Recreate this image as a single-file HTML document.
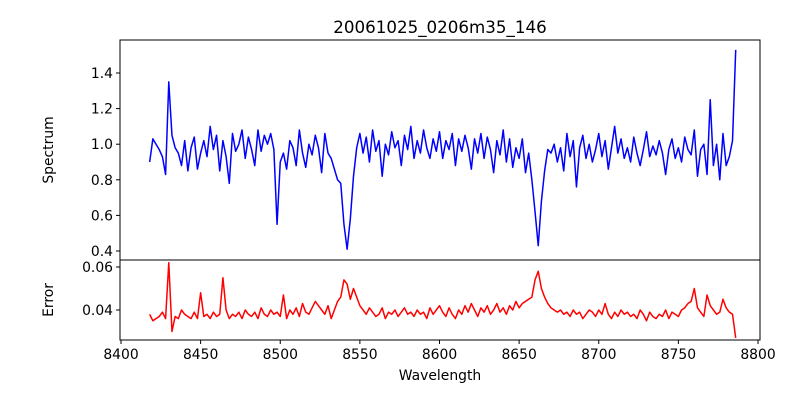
<!DOCTYPE html>
<html><head><meta charset="utf-8"><style>
body{margin:0;background:#fff}
svg{display:block;font-family:"DejaVu Sans","Liberation Sans",sans-serif}
</style></head><body>
<svg id="chart" width="800" height="400" viewBox="0 0 800 400" xmlns="http://www.w3.org/2000/svg">
<rect width="800" height="400" fill="#fff"/>
<text x="440" y="33" font-size="16.7" text-anchor="middle">20061025_0206m35_146</text>
<g id="gtop"></g><g id="gbot"></g>
<text transform="translate(53,150) rotate(-90)" font-size="13.9" text-anchor="middle">Spectrum</text>
<text transform="translate(53,300) rotate(-90)" font-size="13.9" text-anchor="middle">Error</text>
<text x="440" y="380" font-size="13.9" text-anchor="middle">Wavelength</text>
</svg>
<script>
const wlStart = 8418, wlStep = 2;
const flux = [
0.90,1.03,1.00,0.97,0.93,0.83,1.35,1.05,0.98,0.95,
0.88,1.02,0.85,0.98,1.04,0.86,0.95,1.02,0.93,1.10,
0.97,1.05,0.85,1.02,0.93,0.78,1.06,0.96,1.00,1.08,
0.92,1.04,0.97,0.88,1.08,0.96,1.05,1.00,1.06,0.97,
0.55,0.90,0.95,0.86,1.02,0.98,0.88,1.08,0.95,0.87,
1.00,0.94,1.05,0.98,0.84,1.06,0.95,0.92,0.86,0.80,
0.78,0.55,0.41,0.58,0.82,0.98,1.06,0.95,1.04,0.90,
1.08,0.96,1.02,0.82,1.00,0.94,1.07,0.98,1.02,0.88,
1.05,0.97,1.10,0.92,1.02,0.95,1.08,0.98,0.92,1.03,
0.96,1.07,0.92,1.02,0.97,1.06,0.88,1.03,0.96,1.05,
0.98,0.86,1.03,0.95,1.06,0.92,1.04,0.97,0.84,1.02,
0.94,1.08,0.90,1.03,0.87,0.98,0.92,1.03,0.84,0.95,
0.80,0.62,0.43,0.68,0.85,0.97,0.95,1.00,0.90,0.98,
0.85,1.06,0.93,1.02,0.76,0.98,1.05,0.92,1.00,0.90,
0.97,1.06,0.93,1.02,0.86,0.98,1.10,0.95,1.03,0.92,
0.98,0.90,1.04,0.95,0.88,0.97,1.07,0.93,0.99,0.94,
1.02,0.95,0.83,0.97,1.03,0.92,0.98,0.90,1.04,0.97,
0.94,1.08,0.82,0.97,1.00,0.83,1.25,0.88,1.00,0.80,
1.06,0.88,0.93,1.02,1.53];
const err = [
0.038,0.035,0.036,0.037,0.039,0.036,0.062,0.030,0.037,0.036,
0.040,0.038,0.037,0.036,0.039,0.036,0.048,0.037,0.038,0.036,
0.039,0.037,0.038,0.055,0.040,0.036,0.038,0.037,0.039,0.036,
0.040,0.038,0.037,0.039,0.036,0.041,0.038,0.037,0.040,0.038,
0.039,0.037,0.047,0.036,0.040,0.038,0.041,0.037,0.043,0.039,
0.038,0.041,0.044,0.042,0.040,0.038,0.042,0.036,0.040,0.044,
0.046,0.054,0.052,0.045,0.050,0.046,0.042,0.040,0.038,0.041,
0.039,0.037,0.038,0.041,0.036,0.039,0.038,0.040,0.037,0.039,
0.041,0.038,0.039,0.037,0.040,0.038,0.039,0.036,0.041,0.038,
0.040,0.042,0.039,0.037,0.041,0.038,0.036,0.040,0.038,0.042,
0.039,0.043,0.040,0.037,0.041,0.039,0.042,0.038,0.040,0.043,
0.039,0.041,0.038,0.042,0.040,0.044,0.041,0.043,0.044,0.045,
0.046,0.054,0.058,0.050,0.046,0.043,0.041,0.040,0.039,0.040,
0.038,0.039,0.037,0.040,0.038,0.039,0.036,0.038,0.040,0.039,
0.037,0.040,0.038,0.043,0.038,0.036,0.039,0.037,0.040,0.038,
0.039,0.037,0.038,0.036,0.040,0.038,0.035,0.039,0.037,0.036,
0.038,0.037,0.040,0.036,0.039,0.038,0.037,0.040,0.041,0.043,
0.044,0.050,0.041,0.039,0.037,0.047,0.042,0.040,0.038,0.039,
0.045,0.041,0.039,0.038,0.027];
const xTicks = [8400,8450,8500,8550,8600,8650,8700,8750,8800];
const fluxTicks = [0.4,0.6,0.8,1.0,1.2,1.4];
const errTicks = [0.04,0.06];

const NS = "http://www.w3.org/2000/svg";
const L = 120, R = 760, T1 = 40, B1 = 260, B2 = 340;
const xs = w => 121 + (w - 8400) * 1.5925;
const yF = f => 251 - (f - 0.4) * 178;
const yE = e => 310 - (e - 0.04) * 2150;
function mk(tag, parent, attrs){ const e=document.createElementNS(NS,tag); for(const k in attrs) e.setAttribute(k,attrs[k]); parent.appendChild(e); return e; }
const gTop = document.getElementById('gtop'), gBot = document.getElementById('gbot');

const pf = mk('path', gTop, {d: flux.map((v,i)=>(i?'L':'M')+xs(wlStart+i*wlStep).toFixed(2)+','+yF(v).toFixed(2)).join(''), fill:'none', stroke:'#0000ff', 'stroke-width':1.5, 'stroke-linejoin':'round'});


const pe = mk('path', gBot, {d: err.map((v,i)=>(i?'L':'M')+xs(wlStart+i*wlStep).toFixed(2)+','+yE(v).toFixed(2)).join(''), fill:'none', stroke:'#ff0000', 'stroke-width':1.5, 'stroke-linejoin':'round'});



const f1 = mk('rect', gTop, {x:L, y:T1, width:R-L, height:B1-T1, fill:'none', stroke:'#000', 'stroke-width':1});


const f2 = mk('rect', gBot, {x:L, y:B1, width:R-L, height:B2-B1, fill:'none', stroke:'#000', 'stroke-width':1});



xTicks.forEach(t=>{
  const x = xs(t);
  mk('line', gBot, {x1:x, x2:x, y1:B2, y2:B2+4, stroke:'#000'});
  const tx = mk('text', gBot, {x:x, y:B2+19, 'font-size':13.9, 'text-anchor':'middle'});
  tx.textContent = t;
  
  
});
fluxTicks.forEach(t=>{
  const y = yF(t);
  mk('line', gTop, {x1:L-4, x2:L, y1:y, y2:y, stroke:'#000'});
  const tx = mk('text', gTop, {x:L-7, y:y+5, 'font-size':13.9, 'text-anchor':'end'});
  tx.textContent = t.toFixed(1);
  
  
});
errTicks.forEach(t=>{
  const y = yE(t);
  mk('line', gBot, {x1:L-4, x2:L, y1:y, y2:y, stroke:'#000'});
  const tx = mk('text', gBot, {x:L-7, y:y+5, 'font-size':13.9, 'text-anchor':'end'});
  tx.textContent = t.toFixed(2);
  
  
});
</script>
</body></html>
